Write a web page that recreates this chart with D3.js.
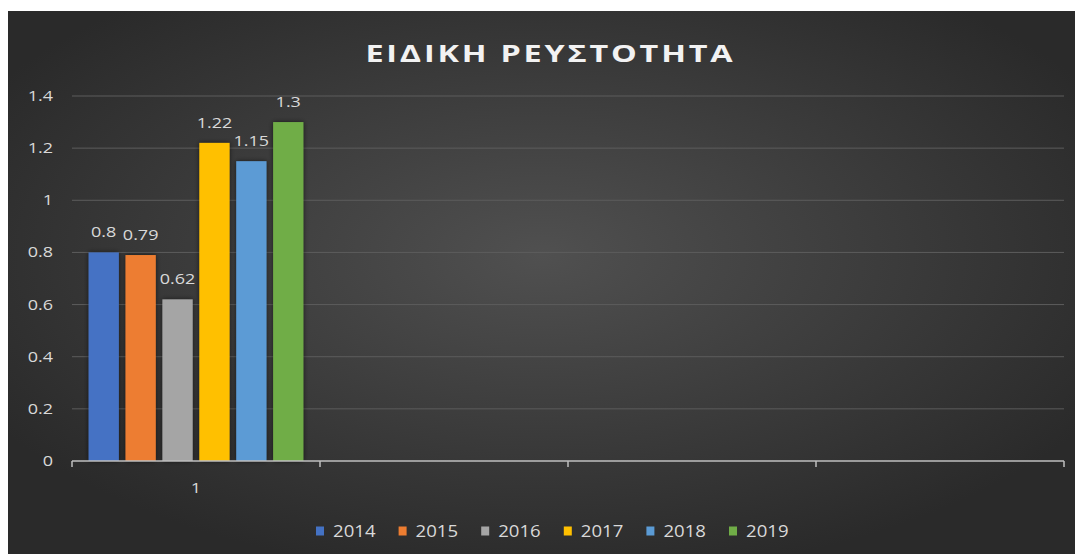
<!DOCTYPE html>
<html>
<head>
<meta charset="utf-8">
<script src="https://cdn.jsdelivr.net/npm/d3@7"></script>
<style>
  html, body { margin: 0; padding: 0; background: #fff; }
  svg { display: block; font-family: "Open Sans", "Noto Sans", sans-serif; }
</style>
</head>
<body>
<div class="chart"></div>
<script>
// data
var categories = ["1", "c2", "c3", "c4"];   // excel shows 3 empty slots after "1"
var categoryLabels = ["1", "", "", ""];
var years = ["2014", "2015", "2016", "2017", "2018", "2019"];
var values = [0.8, 0.79, 0.62, 1.22, 1.15, 1.3];
var colors = ["#4472C4", "#ED7D31", "#A5A5A5", "#FFC000", "#5B9BD5", "#70AD47"];
var yTicks = [0, 0.2, 0.4, 0.6, 0.8, 1, 1.2, 1.4];
var title = "ΕΙΔΙΚΗ ΡΕΥΣΤΟΤΗΤΑ";

var width = 1075, height = 554;
var margin = {left: 72, right: 11, top: 96, bottom: 93};
var stretch = 1.2; // the original picture is widened a bit, text looks wide

const svg = d3.select(".chart").append("svg")
  .attr("width", width)
  .attr("height", height);

// place a text with the horizontal stretch
function wide(sel, x, y) {
  return sel.attr("transform", function(d, i){
    var px = typeof x === "function" ? x(d, i) : x;
    var py = typeof y === "function" ? y(d, i) : y;
    return "translate(" + px + "," + py + ") scale(" + stretch + ",1)";
  });
}

var defs = svg.append("defs");
var bg = defs.append("radialGradient").attr("id", "bg")
  .attr("cx", "50%").attr("cy", "45%").attr("r", "60%");
bg.append("stop").attr("offset", "0%").attr("stop-color", "#505050");
bg.append("stop").attr("offset", "100%").attr("stop-color", "#2a2a2a");

var sh = defs.append("filter").attr("id", "shadow")
  .attr("x", "-30%").attr("y", "-10%").attr("width", "160%").attr("height", "120%");
sh.append("feDropShadow").attr("dx", 0).attr("dy", 0).attr("stdDeviation", 2.5)
  .attr("flood-color", "#000").attr("flood-opacity", 0.6);

// chart area (white strip on top and left in the original)
svg.append("rect")
  .attr("x", 8).attr("y", 11)
  .attr("width", width - 8).attr("height", height - 11)
  .attr("fill", "url(#bg)");

// title
svg.append("g")
  .attr("transform", "translate(549,62) scale(1.35,1)")
  .append("text")
    .attr("x", -136).attr("y", 0)
    .attr("fill", "#f2f2f2")
    .attr("font-size", 24)
    .attr("font-weight", "bold")
    .attr("textLength", 272)
    .attr("lengthAdjust", "spacing")
    .text(title);

var y = d3.scaleLinear()
  .domain([0, 1.4])
  .range([461, margin.top]);

var x0 = d3.scaleBand()
  .domain(categories)
  .range([margin.left, width - margin.right]);

var x1 = d3.scaleBand()
  .domain(years)
  .range([0, x0.bandwidth()])
  .paddingInner(0.18)
  .paddingOuter(0.45);

// gridlines
svg.append("g").selectAll("line")
  .data(yTicks.filter(function(d){ return d > 0; }))
  .enter().append("line")
    .attr("x1", margin.left).attr("x2", width - margin.right)
    .attr("y1", function(d){ return y(d); })
    .attr("y2", function(d){ return y(d); })
    .attr("stroke", "#5c5c5c")
    .attr("stroke-width", 1);

// y labels
wide(svg.append("g").selectAll("text")
  .data(yTicks)
  .enter().append("text"), 53, function(d){ return y(d) + 5; })
    .attr("text-anchor", "end")
    .attr("fill", "#d9d9d9")
    .attr("font-size", 15)
    .text(function(d){ return d; });

// bars
var group = svg.append("g")
  .attr("transform", "translate(" + x0(categories[0]) + ",0)");

group.selectAll("rect")
  .data(values)
  .enter().append("rect")
    .attr("x", function(d, i){ return x1(years[i]); })
    .attr("y", function(d){ return y(d); })
    .attr("width", x1.bandwidth())
    .attr("height", function(d){ return y(0) - y(d); })
    .attr("fill", function(d, i){ return colors[i]; })
    .attr("filter", "url(#shadow)");

wide(group.selectAll("text")
  .data(values)
  .enter().append("text"),
    function(d, i){ return x1(years[i]) + x1.bandwidth() / 2; },
    function(d){ return y(d) - 15; })
    .attr("text-anchor", "middle")
    .attr("fill", "#d9d9d9")
    .attr("font-size", 15)
    .text(function(d){ return d; });

// x axis
var xAxis = d3.axisBottom(x0)
  .tickSize(0)
  .tickFormat(function(d, i){ return categoryLabels[i]; });

var gx = svg.append("g")
  .attr("transform", "translate(0," + y(0) + ")")
  .call(xAxis);
gx.select(".domain").attr("stroke", "#bfbfbf").attr("stroke-width", 1.5)
  .attr("d", "M" + margin.left + ",0H" + (width - margin.right));
// category boundaries carry the ticks, like excel
gx.selectAll("line.bound")
  .data(d3.range(categories.length + 1))
  .enter().append("line")
    .attr("class", "bound")
    .attr("x1", function(i){ return margin.left + i * x0.step(); })
    .attr("x2", function(i){ return margin.left + i * x0.step(); })
    .attr("y1", 0).attr("y2", 6)
    .attr("stroke", "#bfbfbf").attr("stroke-width", 1.5);
gx.selectAll(".tick text")
  .attr("fill", "#d9d9d9")
  .attr("font-size", 15)
  .attr("font-family", "Open Sans, sans-serif")
  .attr("y", 0).attr("dy", 0)
  .attr("transform", "translate(0,32) scale(" + stretch + ",1)");

// legend
var legend = svg.append("g").attr("transform", "translate(316,531)");
var item = legend.selectAll("g")
  .data(years)
  .enter().append("g")
    .attr("transform", function(d, i){ return "translate(" + (i * 82.6) + ",0)"; });
item.append("rect")
  .attr("x", 0).attr("y", -4.5)
  .attr("width", 8).attr("height", 9)
  .attr("fill", function(d, i){ return colors[i]; });
wide(item.append("text"), 17, 6)
  .attr("fill", "#d9d9d9")
  .attr("font-size", 15.5)
  .text(function(d){ return d; });
</script>
</body>
</html>
